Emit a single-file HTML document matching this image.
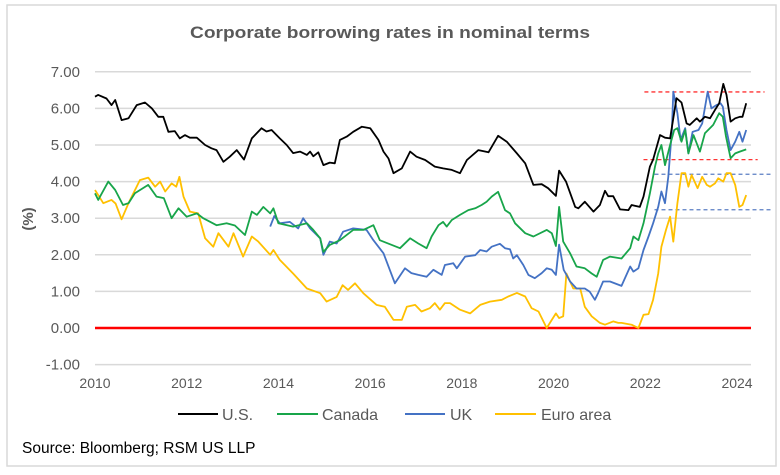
<!DOCTYPE html>
<html><head><meta charset="utf-8"><style>
html,body{margin:0;padding:0;background:#fff;}
svg{display:block;font-family:"Liberation Sans",Arial,sans-serif;}
</style></head><body>
<svg id="chart" width="780" height="475" viewBox="0 0 780 475" xmlns="http://www.w3.org/2000/svg">
<rect x="7" y="5" width="769" height="461" fill="#fff" stroke="#d9d9d9" stroke-width="1.5"/>
<text x="390" y="38" text-anchor="middle" font-size="16.5" font-weight="bold" fill="#595959" textLength="400" lengthAdjust="spacingAndGlyphs">Corporate borrowing rates in nominal terms</text>
<text transform="translate(33,219) rotate(-90)" text-anchor="middle" font-size="15" font-weight="bold" fill="#595959">(%)</text>
<g id="grid"></g><g id="yticks"></g><g id="xticks"></g><g id="refs"></g><g id="series"></g>
<g>
<line x1="178" y1="414" x2="218" y2="414" stroke="#000" stroke-width="2"/><text x="222" y="420" font-size="16" fill="#595959">U.S.</text>
<line x1="277" y1="414" x2="318" y2="414" stroke="#18a54a" stroke-width="2"/><text x="322" y="420" font-size="16" fill="#595959">Canada</text>
<line x1="405" y1="414" x2="445" y2="414" stroke="#4472c4" stroke-width="2"/><text x="450" y="420" font-size="16" fill="#595959">UK</text>
<line x1="495" y1="414" x2="536" y2="414" stroke="#ffc000" stroke-width="2"/><text x="541" y="420" font-size="16" fill="#595959">Euro area</text>
</g>
<text x="22" y="453" font-size="15.5" fill="#000">Source: Bloomberg; RSM US LLP</text>
</svg>
<script>
const yTicks=[7,6,5,4,3,2,1,0,-1];
const xTickYears=[2010,2012,2014,2016,2018,2020,2022,2024];
const usYears=[2010.0,2010.07,2010.25,2010.36,2010.44,2010.58,2010.73,2010.91,2011.09,2011.24,2011.38,2011.49,2011.6,2011.74,2011.85,2011.96,2012.07,2012.22,2012.4,2012.54,2012.65,2012.8,2012.94,2013.09,2013.25,2013.42,2013.63,2013.74,2013.85,2014.03,2014.18,2014.32,2014.47,2014.62,2014.69,2014.76,2014.87,2014.98,2015.12,2015.23,2015.34,2015.49,2015.63,2015.82,2016.0,2016.18,2016.29,2016.4,2016.51,2016.69,2016.87,2017.01,2017.2,2017.41,2017.59,2017.78,2017.96,2018.11,2018.36,2018.58,2018.79,2018.98,2019.2,2019.38,2019.56,2019.74,2019.88,2020.05,2020.12,2020.27,2020.47,2020.54,2020.68,2020.87,2021.01,2021.12,2021.19,2021.3,2021.45,2021.63,2021.7,2021.88,2021.96,2022.1,2022.17,2022.32,2022.43,2022.54,2022.68,2022.79,2022.9,2022.97,2023.12,2023.19,2023.3,2023.41,2023.52,2023.61,2023.7,2023.77,2023.86,2023.96,2024.06,2024.12,2024.2];
const usValues=[6.32,6.37,6.27,6.09,6.23,5.68,5.73,6.09,6.16,6.0,5.77,5.77,5.36,5.38,5.18,5.27,5.2,5.2,5.0,4.91,4.86,4.54,4.68,4.86,4.6,5.18,5.46,5.37,5.41,5.18,5.0,4.78,4.82,4.73,4.82,4.69,4.8,4.45,4.52,4.5,5.14,5.23,5.36,5.5,5.46,5.14,4.82,4.63,4.23,4.36,4.82,4.68,4.59,4.41,4.36,4.32,4.23,4.59,4.86,4.8,5.25,5.09,4.77,4.5,3.91,3.93,3.82,3.61,4.3,4.0,3.31,3.27,3.45,3.18,3.36,3.75,3.6,3.6,3.24,3.22,3.36,3.31,3.59,4.41,4.6,5.27,5.2,5.18,6.28,6.16,5.59,5.55,5.73,5.64,5.77,5.73,5.96,6.14,6.67,6.37,5.64,5.73,5.77,5.77,6.14];
const caYears=[2010.0,2010.07,2010.29,2010.44,2010.61,2010.73,2010.87,2011.16,2011.34,2011.5,2011.67,2011.82,2012.0,2012.22,2012.36,2012.65,2012.87,2013.05,2013.27,2013.42,2013.53,2013.67,2013.82,2013.89,2014.0,2014.32,2014.62,2014.76,2014.91,2014.98,2015.12,2015.34,2015.63,2015.85,2016.07,2016.21,2016.65,2016.87,2017.05,2017.23,2017.34,2017.49,2017.59,2017.67,2017.78,2017.96,2018.14,2018.29,2018.43,2018.54,2018.65,2018.79,2018.94,2019.05,2019.16,2019.38,2019.56,2019.85,2019.96,2020.05,2020.12,2020.21,2020.36,2020.5,2020.68,2020.83,2020.94,2021.08,2021.23,2021.48,2021.67,2021.74,2021.85,2021.96,2022.1,2022.21,2022.28,2022.35,2022.43,2022.54,2022.63,2022.7,2022.79,2022.87,2022.94,2023.05,2023.19,2023.3,2023.48,2023.61,2023.69,2023.76,2023.86,2023.96,2024.06,2024.2];
const caValues=[3.68,3.5,4.0,3.77,3.36,3.41,3.68,3.91,3.59,3.55,3.0,3.27,3.04,3.13,3.0,2.81,2.86,2.8,2.54,3.18,3.09,3.31,3.13,3.27,2.86,2.77,2.86,2.68,2.45,2.08,2.27,2.4,2.68,2.68,2.81,2.4,2.18,2.45,2.31,2.18,2.5,2.81,2.9,2.77,2.95,3.09,3.22,3.27,3.36,3.45,3.59,3.72,3.22,3.13,2.86,2.59,2.5,2.68,2.59,2.24,3.31,2.36,2.04,1.68,1.63,1.49,1.4,1.86,1.95,1.9,2.18,2.5,2.4,2.86,3.68,4.41,4.77,5.0,4.45,5.0,5.41,5.46,5.09,5.41,4.77,5.27,4.82,5.32,5.55,5.87,5.77,5.23,4.64,4.77,4.82,4.88];
const ukYears=[2013.82,2013.91,2014.03,2014.25,2014.43,2014.54,2014.69,2014.91,2014.98,2015.12,2015.27,2015.41,2015.63,2015.92,2016.07,2016.29,2016.54,2016.76,2016.9,2017.05,2017.23,2017.38,2017.56,2017.63,2017.81,2017.89,2018.07,2018.29,2018.4,2018.54,2018.65,2018.83,2018.94,2019.05,2019.12,2019.2,2019.34,2019.45,2019.59,2019.74,2019.85,2019.96,2020.05,2020.12,2020.22,2020.36,2020.5,2020.68,2020.79,2020.9,2020.97,2021.08,2021.23,2021.48,2021.67,2021.74,2021.85,2021.96,2022.07,2022.17,2022.28,2022.35,2022.43,2022.5,2022.58,2022.61,2022.7,2022.77,2022.87,2022.94,2023.03,2023.16,2023.24,2023.36,2023.44,2023.55,2023.64,2023.69,2023.77,2023.86,2023.96,2024.05,2024.12,2024.2];
const ukValues=[2.77,3.06,2.86,2.9,2.72,3.0,2.72,2.45,2.0,2.36,2.31,2.63,2.72,2.68,2.4,2.04,1.22,1.63,1.5,1.45,1.4,1.59,1.45,1.72,1.77,1.63,1.95,1.99,2.13,2.09,2.22,2.3,2.18,2.15,1.9,1.99,1.72,1.45,1.36,1.5,1.63,1.59,1.45,2.28,1.59,1.27,1.08,1.08,0.99,0.77,0.95,1.27,1.27,1.15,1.68,1.54,1.63,2.13,2.5,2.86,3.31,3.73,3.41,4.13,5.41,6.46,5.87,5.14,5.46,4.77,5.36,5.41,5.59,6.46,6.0,6.09,6.14,6.05,5.41,4.86,5.09,5.36,5.09,5.41];
const euYears=[2010.0,2010.18,2010.36,2010.45,2010.58,2010.73,2010.98,2011.16,2011.31,2011.42,2011.53,2011.67,2011.77,2011.84,2011.93,2012.07,2012.25,2012.4,2012.58,2012.69,2012.91,2013.02,2013.23,2013.42,2013.56,2013.82,2013.89,2014.03,2014.32,2014.62,2014.91,2015.05,2015.27,2015.4,2015.52,2015.67,2015.85,2016.14,2016.32,2016.51,2016.69,2016.8,2016.98,2017.12,2017.3,2017.41,2017.52,2017.63,2017.74,2017.96,2018.18,2018.4,2018.61,2018.87,2019.01,2019.2,2019.38,2019.52,2019.67,2019.85,2019.96,2020.05,2020.12,2020.21,2020.28,2020.43,2020.58,2020.68,2020.83,2021.01,2021.12,2021.3,2021.41,2021.48,2021.7,2021.85,2021.96,2022.07,2022.17,2022.28,2022.35,2022.45,2022.54,2022.61,2022.7,2022.79,2022.87,2022.94,2023.01,2023.14,2023.24,2023.34,2023.41,2023.52,2023.59,2023.7,2023.77,2023.86,2023.96,2024.05,2024.12,2024.2];
const euValues=[3.77,3.41,3.5,3.4,2.97,3.41,4.04,4.11,3.86,4.0,3.73,3.95,3.86,4.13,3.59,3.18,3.13,2.45,2.22,2.59,2.22,2.59,1.95,2.5,2.36,2.0,2.13,1.86,1.49,1.08,0.95,0.72,0.85,1.17,1.04,1.22,0.95,0.63,0.58,0.22,0.22,0.58,0.63,0.45,0.54,0.68,0.5,0.68,0.68,0.5,0.4,0.63,0.72,0.77,0.86,0.96,0.86,0.54,0.45,0.0,0.22,0.4,0.27,0.32,1.49,1.08,1.08,0.58,0.32,0.14,0.09,0.18,0.14,0.14,0.09,0.0,0.36,0.38,0.77,1.49,2.22,2.68,3.04,2.36,3.41,4.23,4.23,3.86,4.18,3.82,4.13,3.91,3.86,3.95,4.09,4.0,4.23,4.23,3.91,3.31,3.36,3.63,3.5,3.72];
const refLevels=[6.45,4.6,4.2,3.23];

const NS='http://www.w3.org/2000/svg';
const X0=95,X1=751,YR0=2010,PXYR=45.86,Y0=328,PXV=36.6;
function xs(yr){return X0+(yr-YR0)*PXYR;}
function ys(v){return Y0-v*PXV;}
function mk(tag,attrs,parent){const e=document.createElementNS(NS,tag);for(const k in attrs)e.setAttribute(k,attrs[k]);parent.appendChild(e);return e;}
const grid=document.getElementById('grid'),yt=document.getElementById('yticks'),xt=document.getElementById('xticks');
yTicks.forEach(v=>{
  const l=mk('line',{x1:X0,x2:X1,y1:ys(v),y2:ys(v),stroke:v===0?'#ff0000':'#d9d9d9','stroke-width':v===0?2.5:1.5},grid);
  
  
  const t=mk('text',{x:80,y:ys(v)+5,'text-anchor':'end','font-size':15,fill:'#595959'},yt);
  t.textContent=v.toFixed(2);
  
  
});
xTickYears.forEach(y=>{
  const t=mk('text',{x:xs(y),y:388,'text-anchor':'middle','font-size':14,fill:'#595959'},xt);
  t.textContent=String(y);
  
  
});
const refs=document.getElementById('refs');
const refColors=['#ff3333','#ff3333','#5b7fc4','#5b7fc4'];
const refStarts=[2021.98,2021.96,2022.2,2022.2];
const refEnds=[2024.6,2024.45,2024.75,2024.75];
refLevels.forEach((v,i)=>{
  const l=mk('line',{x1:xs(refStarts[i]),x2:xs(refEnds[i]),y1:ys(v),y2:ys(v),stroke:refColors[i],'stroke-width':1.3,'stroke-dasharray':'4,3'},refs);
  
  
});
const ser=document.getElementById('series');
function drawLine(years,vals,color,name){
  const d=years.map((y,i)=>(i?'L':'M')+xs(y).toFixed(1)+','+ys(vals[i]).toFixed(1)).join('');
  const p=mk('path',{d:d,fill:'none',stroke:color,'stroke-width':1.8,'stroke-linejoin':'round'},ser);
  
  
}
drawLine(euYears,euValues,'#ffc000','euro-area-line');
drawLine(ukYears,ukValues,'#4472c4','uk-line');
drawLine(caYears,caValues,'#18a54a','canada-line');
drawLine(usYears,usValues,'#000000','us-line');
</script>
</body></html>
